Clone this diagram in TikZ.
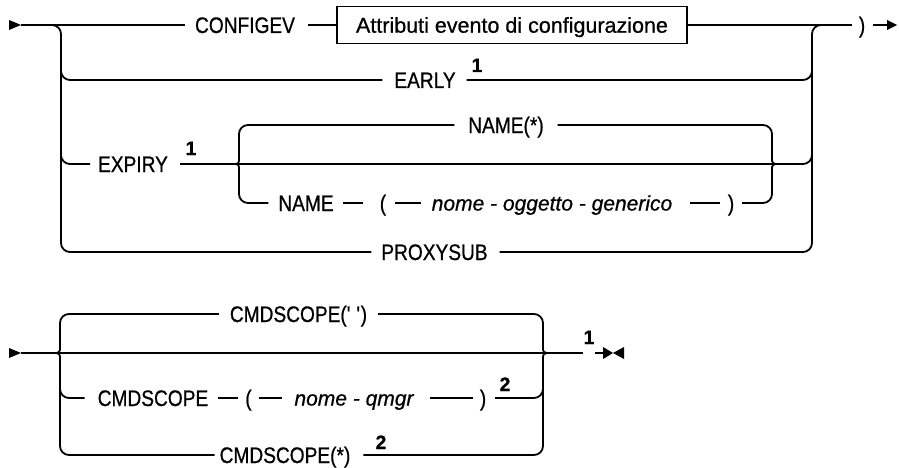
\documentclass[tikz,border=0pt]{standalone}
\usepackage{fontspec}
\setmainfont{Liberation Sans}[FakeBold=0.7]
\newfontfamily\synkwfam[FakeStretch=0.85,FakeBold=0.7]{Liberation Sans}
\newfontfamily\synboxfam[FakeBold=0.7]{Liberation Sans}
\newfontfamily\synvarfam[FakeBold=0.7]{Liberation Sans Italic}
\newcommand\synkwfont{\synkwfam\fontsize{22.5}{24}\selectfont}
\newcommand\synvarfont{\synvarfam\fontsize{21}{23}\selectfont}
\newcommand\synboxfont{\synboxfam\fontsize{21.5}{23}\selectfont}
\newcommand\synsupfont{\fontsize{19.5}{21}\selectfont\bfseries}
\begin{document}
\begin{tikzpicture}[x=1pt,y=-1pt,
  ln/.style={line width=1.8pt},
  rc/.style={ln, rounded corners=9pt},
  kw/.style={font=\synkwfont, inner sep=0pt, outer sep=0pt, text height=16pt, text depth=0pt},
  var/.style={font=\synvarfont, inner sep=0pt, outer sep=0pt, text height=15pt, text depth=0pt},
  sup/.style={font=\synsupfont, inner sep=0pt, outer sep=0pt, text height=14pt, text depth=0pt},
  grp/.style={draw, line width=1.5pt, font=\synboxfont, inner sep=0pt, outer sep=0pt,
              text height=15.4pt, text depth=0pt, minimum width=350pt, minimum height=37pt}]
\useasboundingbox (0,0) rectangle (899,468);

% ---------------- upper diagram ----------------
\coordinate (s1) at (21,25);
\coordinate (e1) at (887,25);
\fill (9,20) -- (s1) -- (9,30) -- cycle;
\node[kw] (configev) at (245,25) {CONFIGEV};
\node[grp] (attr) at (512,25) {Attributi evento di configurazione};
\node[kw] (rp0) at (862,25) {)};
\draw[ln] (s1) -- ([xshift=-10pt]configev.west);
\draw[ln] ([xshift=13pt]configev.east) -- (attr.west);
\draw[ln] (attr.east) -- ([xshift=-7pt]rp0.west);
\draw[ln] ([xshift=8pt]rp0.east) -- (e1);
\fill ([yshift=5pt]e1) -- ([xshift=10pt]e1) -- ([yshift=-5pt]e1) -- cycle;

\node[kw] (early) at (425,80) {EARLY};
\node[sup] (n1a) at (477,65) {1};
\node[kw] (expiry) at (133,164) {EXPIRY};
\node[sup] (n1b) at (191,148) {1};
\node[kw] (namestar) at (506,125) {NAME(*)};
\node[kw] (name) at (306,203) {NAME};
\node[kw] (lp1) at (383,203) {(};
\node[var] (obj) at (552,203) {nome - oggetto - generico};
\node[kw] (rp1) at (731,203) {)};
\node[kw] (proxysub) at (434.5,252) {PROXYSUB};

\coordinate (ltip) at (233,164);
\coordinate (rtip) at (780,164);

% left bracket
\draw[rc] (50,25) -- (61,25) -- (61,252) -- ([xshift=-10pt]proxysub.west);
\draw[rc] (61,60) -- (61,80) -- ([xshift=-12pt]early.west);
\draw[rc] (61,140) -- (61,164) -- ([xshift=-8pt]expiry.west);
% right bracket
\draw[rc] (822,25) -- (812,25) -- (812,252) -- ([xshift=12pt]proxysub.east);
\draw[rc] ([xshift=11pt]early.east) -- (812,80) -- (812,60);
% expiry row
\draw[ln] ([xshift=12pt]expiry.east) -- (ltip);
\draw[rc] (ltip) -- (rtip) -- (812,164) -- (812,140);
% inner brace left
\draw[rc] ([xshift=-14pt]namestar.west) -- (239,125) -- (239,157);
\draw[ln] (239,157) .. controls (239,164) .. (ltip);
\draw[ln] (ltip) .. controls (239,164) .. (239,171);
\draw[rc] (239,171) -- (239,203) -- ([xshift=-10pt]name.west);
% name row
\draw[ln] ([xshift=9pt]name.east) -- ([xshift=-17pt]lp1.west);
\draw[ln] ([xshift=9pt]lp1.east) -- ([xshift=-11pt]obj.west);
\draw[ln] ([xshift=18pt]obj.east) -- ([xshift=-8pt]rp1.west);
% inner brace right
\draw[rc] ([xshift=14pt]namestar.east) -- (772,125) -- (772,157);
\draw[ln] (772,157) .. controls (772,164) .. (rtip);
\draw[rc] ([xshift=8pt]rp1.east) -- (772,203) -- (772,171);
\draw[ln] (772,171) .. controls (772,164) .. (rtip);

% ---------------- lower diagram ----------------
\coordinate (s2) at (21,353);
\coordinate (bl) at (52,353);
\coordinate (br) at (552,353);
\coordinate (e2) at (583,353);
\coordinate (e3) at (595,353);
\coordinate (bt) at (613,353);
\fill (9,348) -- (s2) -- (9,358) -- cycle;
\draw[ln] (s2) -- (bl) -- (br) -- (e2);
\node[sup] (n1c) at (589,337) {1};
\draw[ln] (e3) -- ([xshift=-10pt]bt);
\fill ([xshift=-10pt,yshift=6pt]bt) -- (bt) -- ([xshift=-10pt,yshift=-6pt]bt) -- cycle;
\fill ([xshift=11pt,yshift=6pt]bt) -- (bt) -- ([xshift=11pt,yshift=-6pt]bt) -- cycle;

\node[kw] (cs1) at (298.5,314) {CMDSCOPE(\textquotesingle\ \textquotesingle)};
\node[kw] (cs2) at (153,398) {CMDSCOPE};
\node[kw] (lp2) at (248.5,398) {(};
\node[var] (qm) at (354,398) {nome - qmgr};
\node[kw] (rp2) at (483,398) {)};
\node[sup] (n2a) at (505,384) {2};
\node[kw] (cs3) at (285,455) {CMDSCOPE(*)};
\node[sup] (n2b) at (381,442) {2};

% left brace
\draw[rc] ([xshift=-11pt]cs1.west) -- (60,314) -- (60,346);
\draw[ln] (60,346) .. controls (60,353) .. (bl);
\draw[ln] (bl) .. controls (60,353) .. (60,360);
\draw[rc] (60,360) -- (60,455) -- ([xshift=-5pt]cs3.west);
\draw[rc] (60,380) -- (60,398) -- ([xshift=-13pt]cs2.west);
% middle row
\draw[ln] ([xshift=10pt]cs2.east) -- ([xshift=-7pt]lp2.west);
\draw[ln] ([xshift=7pt]lp2.east) -- ([xshift=-12pt]qm.west);
\draw[ln] ([xshift=16pt]qm.east) -- ([xshift=-7pt]rp2.west);
% right brace
\draw[rc] ([xshift=11pt]cs1.east) -- (543,314) -- (543,346);
\draw[ln] (543,346) .. controls (543,353) .. (br);
\draw[ln] (br) .. controls (543,353) .. (543,360);
\draw[rc] (543,360) -- (543,455) -- ([xshift=13pt]cs3.east);
\draw[rc] ([xshift=9pt]rp2.east) -- (543,398) -- (543,380);
\end{tikzpicture}
\end{document}
